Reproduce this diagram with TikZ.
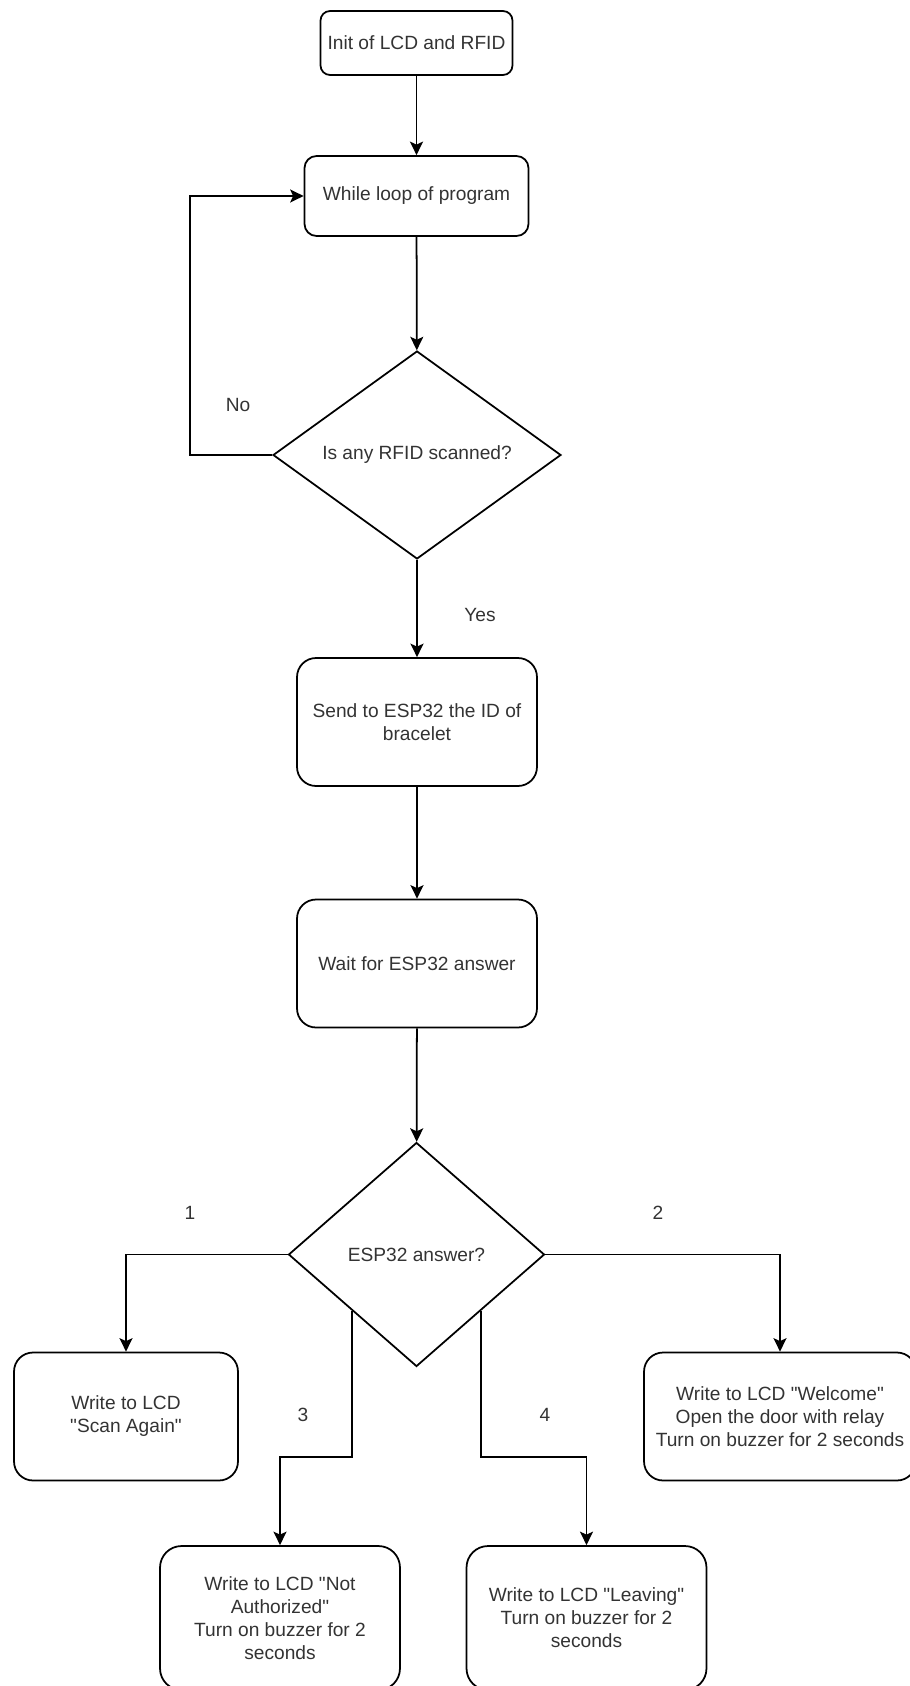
\documentclass[tikz,border=0pt]{standalone}
\usepackage{fontspec}
\setmainfont[Ligatures=TeXOff]{Liberation Sans}
\usetikzlibrary{shapes.geometric, arrows.meta}

\begin{document}
\begin{tikzpicture}[x=0.02cm, y=-0.02cm,
        proc/.style={draw, line width=1pt, rounded corners=0.38cm, align=center, inner sep=2pt, text=black!80, font=\fontsize{10.9}{13.1}\selectfont},
        decision/.style={draw, diamond, line width=1pt, inner sep=0pt, align=center, text=black!80, font=\fontsize{10.9}{13.1}\selectfont},
        flow/.style={line width=1pt, -{Stealth[length=0.27cm, width=0.26cm, inset=0.06cm]}},
        lbl/.style={text=black!80, font=\fontsize{10.9}{13.1}\selectfont}]
        \useasboundingbox (0,0) rectangle (909,1686);

        % Start and main loop
        \node[proc, rounded corners=0.19cm, minimum width=3.84cm, minimum height=1.28cm] (init) at (416.5,43) {Init of LCD and RFID};
        \node[proc, rounded corners=0.24cm, minimum width=4.48cm, minimum height=1.6cm] (loop) at (416.5,196) {While loop of program};
        \node[decision, aspect=1.385, minimum width=5.76cm, minimum height=4.16cm] (scan) at (417,455) {Is any RFID scanned?};
        \draw[flow] (init) -- (loop);
        \draw[flow] (loop) -- (scan);

        % No card: back to the loop
        \draw[flow] (scan.west) -- ++(-82,0) |- (loop.west);
        \node[lbl] at (238,405) {No};

        % Card scanned
        \node[proc, minimum width=4.8cm, minimum height=2.56cm] (send) at (417,722) {Send to ESP32 the ID of\\bracelet};
        \node[proc, minimum width=4.8cm, minimum height=2.56cm] (wait) at (417,963.5) {Wait for ESP32 answer};
        \draw[flow] (scan) -- (send);
        \node[lbl] at (480,615) {Yes};
        \draw[flow] (send) -- (wait);

        % Answer of the ESP32
        \node[decision, aspect=1.143, minimum width=5.12cm, minimum height=4.48cm] (answer) at (416.5,1254.5) {ESP32 answer?};
        \draw[flow] (wait) -- (answer);

        % The four outcomes
        \node[proc, minimum width=4.48cm, minimum height=2.56cm] (again) at (126,1416.5) {Write to LCD\\"Scan Again"};
        \node[proc, minimum width=5.44cm, minimum height=2.56cm] (welcome) at (780,1416.5) {Write to LCD "Welcome"\\Open the door with relay\\Turn on buzzer for 2 seconds};
        \node[proc, rounded corners=0.43cm, minimum width=4.8cm, minimum height=2.88cm] (notauth) at (280,1618) {Write to LCD "Not\\Authorized"\\Turn on buzzer for 2\\seconds};
        \node[proc, rounded corners=0.43cm, minimum width=4.8cm, minimum height=2.88cm] (leaving) at (586.5,1618) {Write to LCD "Leaving"\\Turn on buzzer for 2\\seconds};

        \draw[flow] (answer.west) -| (again.north);
        \node[lbl] at (190,1213) {1};
        \draw[flow] (answer.east) -| (welcome.north);
        \node[lbl] at (658,1213) {2};
        \draw[flow] (answer.south west) -- ++(0,146) -| (notauth.north);
        \node[lbl] at (303,1415) {3};
        \draw[flow] (answer.south east) -- ++(0,146) -| (leaving.north);
        \node[lbl] at (545,1415) {4};
\end{tikzpicture}
\end{document}
